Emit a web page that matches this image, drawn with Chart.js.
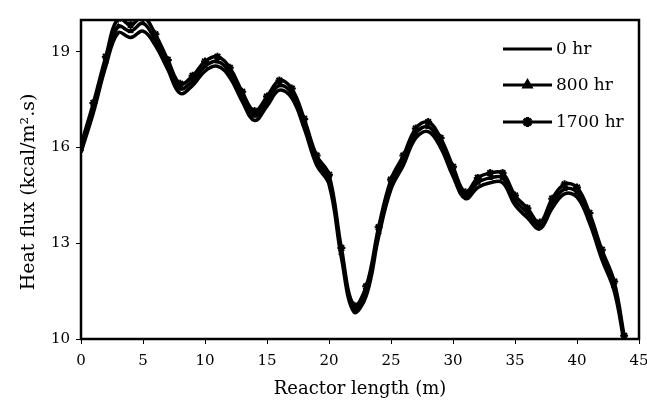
<!DOCTYPE html>
<html>
<head>
<meta charset="utf-8">
<script src="https://cdn.jsdelivr.net/npm/chart.js@4"></script>
<style>
  html, body { margin: 0; padding: 0; background: #fff; }
  #wrap { width: 647px; height: 406px; }
</style>
</head>
<body>
<div id="wrap"><canvas id="fluxChart" width="647" height="406"></canvas></div>
<script>
// reactor length (m)
const lengths = [0,1,2,3,4,5,6,7,8,9,10,11,12,13,14,15,16,17,18,19,20,21,22,23,24,25,26,27,28,29,30,31,32,33,34,35,36,37,38,39,40,41,42,43,43.8];

// heat flux (kcal/m2.s)
const flux0 = [15.85,17.1,18.55,19.6,19.45,19.65,19.2,18.45,17.7,17.95,18.4,18.55,18.2,17.45,16.85,17.3,17.8,17.55,16.6,15.45,14.85,12.55,10.85,11.35,13.2,14.7,15.45,16.3,16.5,16.0,15.1,14.4,14.75,14.9,14.9,14.2,13.8,13.45,14.1,14.55,14.45,13.65,12.5,11.5,9.9];
const flux800 = [15.95,17.25,18.7,19.8,19.65,19.9,19.35,18.6,17.85,18.1,18.55,18.7,18.35,17.6,17.0,17.45,17.95,17.7,16.75,15.6,15.0,12.7,10.95,11.5,13.35,14.85,15.6,16.45,16.65,16.15,15.25,14.5,14.9,15.05,15.05,14.35,13.95,13.55,14.25,14.7,14.6,13.8,12.65,11.65,10.0];
const flux1700 = [16.1,17.4,18.85,20.05,19.85,20.1,19.55,18.75,18.0,18.25,18.7,18.85,18.5,17.75,17.15,17.6,18.1,17.85,16.9,15.75,15.15,12.85,11.05,11.65,13.5,15.0,15.75,16.6,16.8,16.3,15.4,14.6,15.05,15.2,15.2,14.5,14.1,13.65,14.4,14.85,14.75,13.95,12.8,11.8,10.1];

const yTicks = [10, 13, 16, 19];
const xTicks = [0, 5, 10, 15, 20, 25, 30, 35, 40, 45];

const seriesNames = ['0 hr', '800 hr', '1700 hr'];
const yTitle = 'Heat flux (kcal/m\u00B2.s)';

function toPoints(vals) {
  return vals.map((v, i) => ({ x: lengths[i], y: v }));
}

const serif = 'DejaVu Serif';

// box around the plot, y title and the legend inside the plot area
const frameAndLegend = {
  id: 'frameAndLegend',
  afterDraw(chart) {
    const { ctx, chartArea: a } = chart;
    ctx.save();
    ctx.strokeStyle = '#000';
    ctx.lineWidth = 2.5;
    ctx.strokeRect(a.left, a.top, a.right - a.left, a.bottom - a.top);

    ctx.fillStyle = '#000';
    ctx.save();
    ctx.translate(29, 192);
    ctx.rotate(-Math.PI / 2);
    ctx.font = '19px "' + serif + '"';
    ctx.textAlign = 'center';
    ctx.textBaseline = 'middle';
    ctx.fillText(yTitle, 0, 0);
    ctx.restore();

    const rows = [a.top + 29, a.top + 65, a.top + 102];
    const x0 = a.left + 422, x1 = a.left + 471;
    ctx.font = '17px "' + serif + '"';
    ctx.textBaseline = 'middle';
    chart.data.datasets.forEach((ds, i) => {
      const y = rows[i];
      ctx.beginPath();
      ctx.lineWidth = 3;
      ctx.moveTo(x0, y);
      ctx.lineTo(x1, y);
      ctx.stroke();
      if (ds.pointRadius > 0) {
        Chart.helpers.drawPoint(ctx, {
          pointStyle: ds.pointStyle,
          radius: ds.pointRadius + 1,
          borderWidth: ds.pointBorderWidth
        }, (x0 + x1) / 2, y);
        ctx.fill();
      }
      ctx.fillText(ds.label, x1 + 4, y + 1);
    });
    ctx.restore();
  }
};

const ctx = document.getElementById('fluxChart').getContext('2d');
const fluxChart = new Chart(ctx, {
  type: 'line',
  data: {
    datasets: [
      {
        label: seriesNames[0],
        data: toPoints(flux0),
        borderColor: '#000',
        backgroundColor: '#000',
        borderWidth: 3.5,
        tension: 0.4,
        pointRadius: 0
      },
      {
        label: seriesNames[1],
        data: toPoints(flux800),
        borderColor: '#000',
        backgroundColor: '#000',
        borderWidth: 3.5,
        tension: 0.4,
        pointStyle: 'triangle',
        pointRadius: 3,
        pointBorderWidth: 1
      },
      {
        label: seriesNames[2],
        data: toPoints(flux1700),
        borderColor: '#000',
        backgroundColor: '#000',
        borderWidth: 3.5,
        tension: 0.4,
        pointStyle: 'star',
        pointRadius: 4,
        pointBorderWidth: 2
      }
    ]
  },
  options: {
    responsive: false,
    animation: false,
    layout: { padding: { top: 20, right: 8, left: 0, bottom: 0 } },
    plugins: {
      legend: { display: false },
      tooltip: { enabled: false }
    },
    scales: {
      x: {
        type: 'linear',
        min: 0,
        max: 45,
        afterBuildTicks: s => { s.ticks = xTicks.map(v => ({ value: v })); },
        afterFit: s => { s.height = 67; s.paddingLeft = 0; s.paddingRight = 0; },
        grid: { display: true, drawOnChartArea: false, drawTicks: true, tickLength: 5, color: '#000' },
        border: { display: false },
        ticks: {
          color: '#000',
          padding: 8,
          maxRotation: 0,
          font: { family: serif, size: 15 }
        },
        title: {
          display: true,
          text: 'Reactor length (m)',
          color: '#000',
          font: { family: serif, size: 18 },
          padding: { top: 0, bottom: 6 }
        }
      },
      y: {
        min: 10,
        max: 20,
        afterBuildTicks: s => { s.ticks = yTicks.map(v => ({ value: v })); },
        afterFit: s => { s.width = 81; },
        grid: { display: true, drawOnChartArea: false, drawTicks: true, tickLength: 5, color: '#000' },
        border: { display: false },
        ticks: {
          color: '#000',
          padding: 6,
          font: { family: serif, size: 15 }
        }
      }
    }
  },
  plugins: [frameAndLegend]
});
</script>
</body>
</html>
